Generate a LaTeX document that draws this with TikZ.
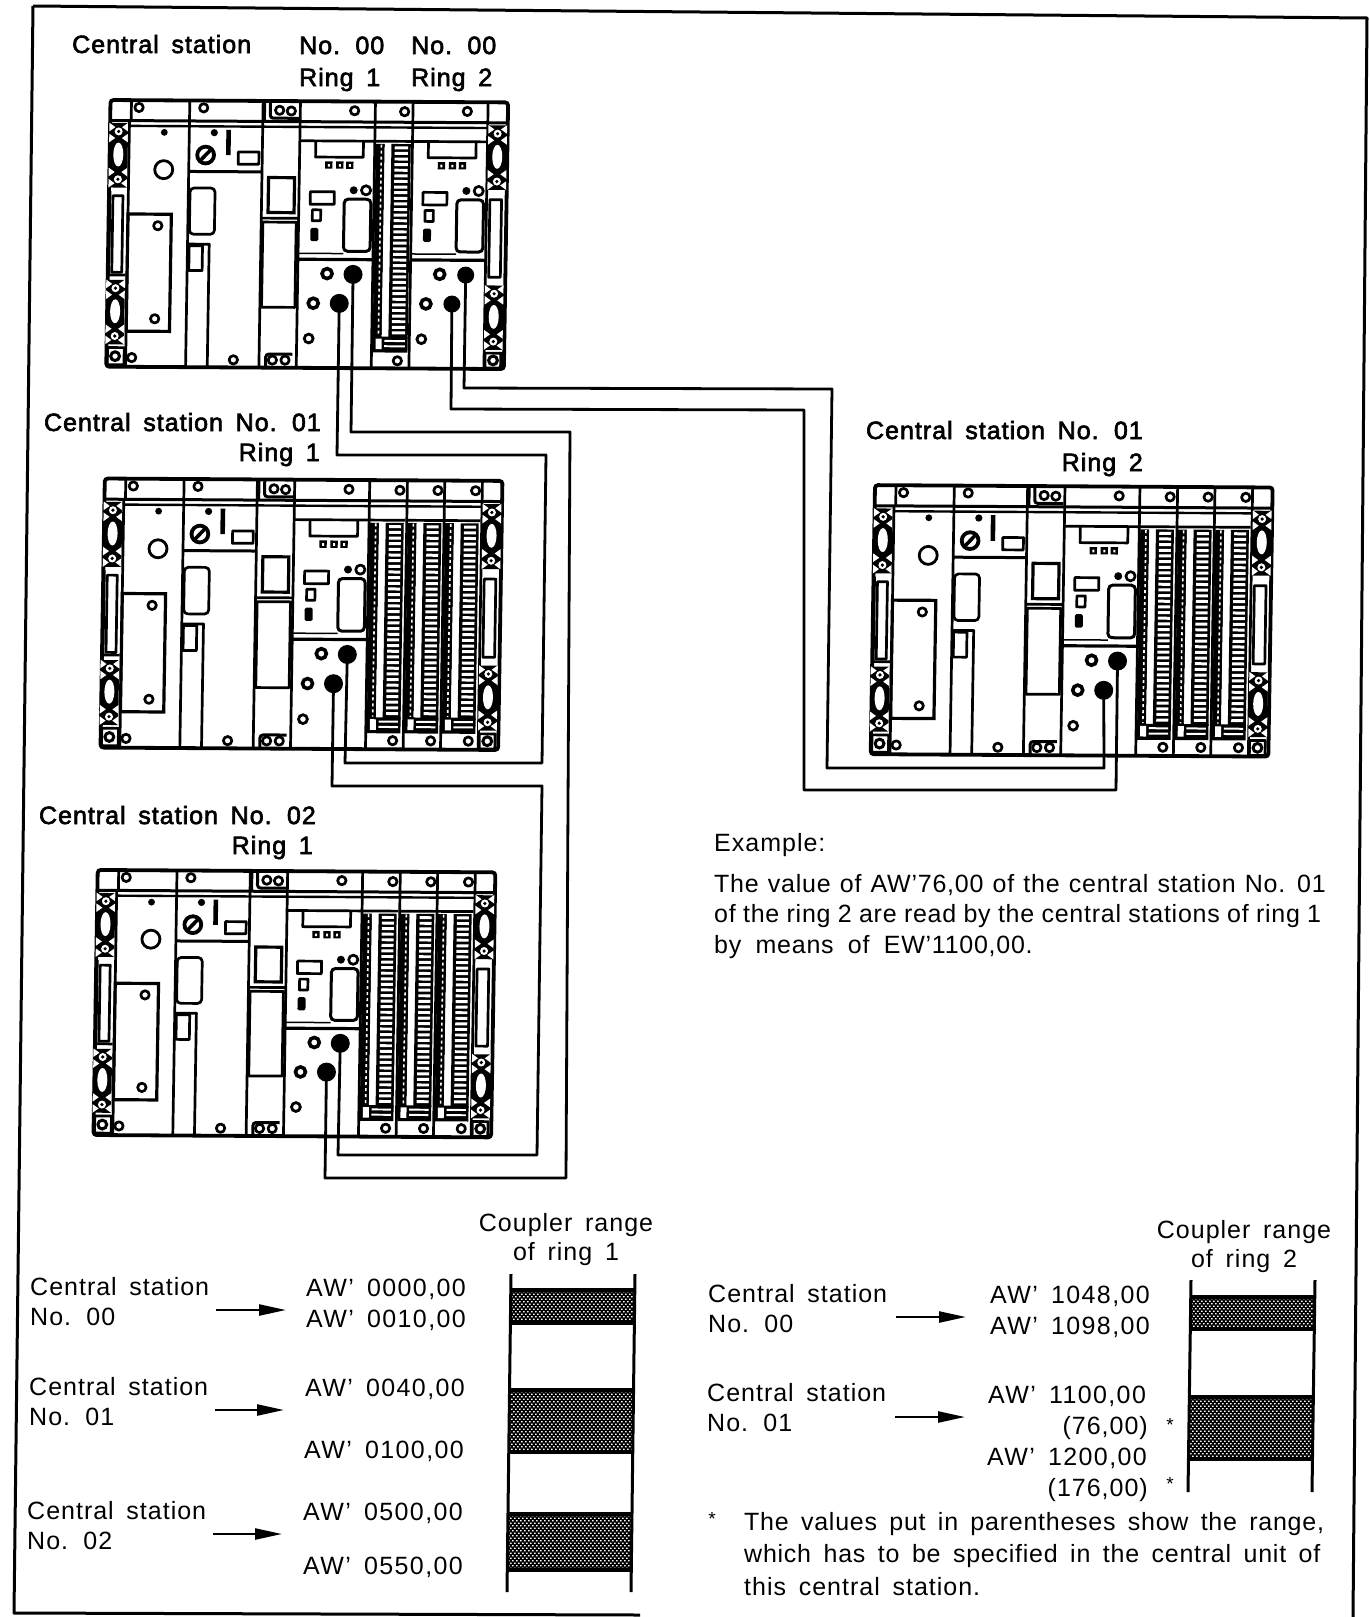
\documentclass[tikz,border=0pt]{standalone}
\usepackage{fontspec}
\usetikzlibrary{arrows.meta}
\setmainfont{Liberation Sans}[LetterSpace=4,WordSpace=1.6]
\newfontfamily\headfont{Liberation Sans}[LetterSpace=4,WordSpace=1.6,FakeBold=2.5]
\newcommand\txtsize{\fontsize{25}{30}\selectfont}
\newcommand\awfont{\addfontfeature{LetterSpace=5.5}}
\newcommand\tightfont{\addfontfeature{LetterSpace=3}}
\tikzset{
  txt/.style={anchor=base west,inner sep=0pt,font=\txtsize},
  txr/.style={anchor=base east,inner sep=0pt,font=\txtsize},
  txc/.style={anchor=base,inner sep=0pt,font=\txtsize},
  star/.style={anchor=base,inner sep=0pt,font=\fontsize{19}{20}\selectfont},
  hd/.style={anchor=base west,inner sep=0pt,font=\headfont\txtsize},
  hdr/.style={anchor=base east,inner sep=0pt,font=\headfont\txtsize},
  cable/.style={line width=2.8pt,line join=round},
  edge/.style={line width=3pt,line join=round},
  arrowline/.style={line width=2.4pt,-{Triangle[length=27pt,width=11pt]}},
  rail/.style={line width=3pt},
  m/.style={line width=2.7pt,line join=round},
  hole/.style={circle,fill=black,inner sep=0pt,minimum size=19pt},
  holeb/.style={circle,fill=black,inner sep=0pt,minimum size=17pt}
}
\newcommand\band[4]{%
  \begin{scope}
  \clip (#1,#2) rectangle (#3,#4);
  \fill[black] (#1,#2) rectangle (#3,#4);
  \begin{scope}[shift={(#1,#2)}]
  \fill[white] \foreach \xx in {0,4,...,128}{\foreach \yy in {1,6,...,66}{(\xx,\yy) rectangle ++(1.5,1.3)}};
  \fill[white] \foreach \xx in {2,6,...,130}{\foreach \yy in {3.5,8.5,...,68.5}{(\xx,\yy) rectangle ++(1.5,1.3)}};
  \end{scope}
  \end{scope}
  \draw[line width=3.4pt] (#1,#2) -- (#3,#2);
  \draw[line width=3.4pt] (#1,#4) -- (#3,#4);}
\newcommand\screw[2]{\draw[m,fill=white] (#1,#2) circle[radius=4.2pt];}
\newcommand\jack[2]{\draw[line width=3.6pt,fill=white] (#1,#2) circle[radius=5pt];}
\newcommand\bracket[2]{%
  \begin{scope}[shift={(#1,#2)}]
  \fill[black] (-28,0) rectangle (28,195);
  \fill[white] (0,95) ellipse[x radius=5pt,y radius=12pt];
  \fill[white] (-9,95) -- (0,68) -- (9,95) -- (0,130) -- cycle;
  \fill[black] (0,25) circle[radius=3pt];
  \foreach \yy in {12,45,148,182}{
    \fill[white] (-28,\yy-13) -- (-10,\yy) -- (-28,\yy+13) -- cycle;
    \fill[white] (28,\yy-13) -- (10,\yy) -- (28,\yy+13) -- cycle;}
  \fill[white] (0,25) circle[radius=4pt];
  \fill[white] (0,170) circle[radius=4pt];
  \fill[black] (0,25) circle[radius=1.8pt];
  \fill[black] (0,170) circle[radius=1.8pt];
  \end{scope}}
\newcommand\coupler[4]{% dx, hole node names, hole style
  \draw[m] (630+#1,150) -- (855+#1,150);
  \begin{scope}[shift={(#1+8,-6)}]
  \draw[m] (672,158) -- (672,205) -- (815,205) -- (815,158);
  \foreach \xx in {712,745,775}{\fill (\xx-11,218) rectangle (\xx+11,240); \fill[white] (\xx-3,226) rectangle (\xx+3,234);}
  \fill (788,305) circle[radius=4pt];
  \draw[m] (825,305) circle[radius=4.6pt];
  \draw[m] (658,310) rectangle (730,348);
  \draw[m] (665,365) rectangle (690,398);
  \fill[rounded corners=1.5pt] (660,420) rectangle (684,460);
  \draw[line width=3pt,fill=white,rounded corners=4pt] (760,332) rectangle (840,490);
  \draw[line width=1.5pt] (622,497) -- (760,497);
  \draw[line width=3.2pt] (622,515) -- (847,515);
  \jack{712}{558}
  \jack{672}{648}
  \draw[line width=2.8pt,fill=white] (660,755) circle[radius=4.4pt];
  \node[#4] (#2) at (790,560) {};
  \node[#4] (#3) at (750,648) {};
  \end{scope}
  \screw{795+#1}{58}}
\newcommand\iomod[2]{% left x, right x
  \begin{scope}[shift={(#1,0)}]
  \fill (3,158) rectangle (30,745);
  \draw[white,line width=1.6pt,dash pattern=on 3pt off 3pt] (20,160) -- (20,740);
  \fill[white] (30,158) rectangle (50,740);
  \fill (50,158) rectangle (#2,748);
  \foreach \yy in {165,182,...,735}{\fill[white] (60,\yy) rectangle (#2-8,\yy+9);}
  \fill (3,742) rectangle (#2,790);
  \fill[white] (12,748) rectangle (30,780);
  \foreach \yy in {752,768}{\fill[white] (38,\yy) rectangle (#2-8,\yy+6);}
  \draw[m] (0,150) -- (#2+5,150);
  \end{scope}}
\newcommand\rackbase{%
  \draw[line width=3.8pt,fill=white,rounded corners=3pt] (62,30) rectangle (1255,838);
  % top rail
  \draw[line width=3pt] (62,92) -- (1255,92);
  \draw[line width=2.4pt] (120,108) -- (1195,108);
  % brackets
  \draw[m] (125,30) -- (125,92);
  \bracket{88}{100}
  \bracket{86}{575}
  \draw[m] (65,305) -- (65,560) -- (115,560);
  \draw[m,fill=white] (74,320) rectangle (104,552);
  \draw[m] (120,92) -- (120,838);
  \draw[m] (65,780) rectangle (115,832);
  \draw[line width=3pt] (88,806) circle[radius=4.4pt];
  % right bracket
  \draw[m] (1195,30) -- (1195,838);
  \bracket{1225}{100}
  \bracket{1222}{585}
  \draw[m,fill=white] (1205,325) rectangle (1240,560);
  \draw[m] (1198,790) rectangle (1245,835);
  \draw[line width=3pt] (1222,812) circle[radius=4.4pt];
  % module separators
  \foreach \xx in {300,520,632,857}{\draw[m] (\xx,30) -- (\xx,838);}
  % first panel
  \fill (225,127) circle[radius=3.4pt];
  \draw[line width=2.8pt] (225,240) circle[radius=9pt];
  \draw[line width=3.2pt] (120,375) rectangle (250,730);
  \screw{210}{410}
  \screw{205}{692}
  \screw{148}{52}
  \screw{138}{810}
  % second panel
  \screw{342}{52}
  \fill (375,127) circle[radius=3.6pt];
  \draw[line width=4.6pt] (418,118) -- (418,195);
  \draw[line width=3.8pt] (350,195) circle[radius=8.4pt];
  \draw[line width=3.6pt] (336,210) -- (364,180);
  \draw[m] (448,185) rectangle (510,222);
  \draw[line width=3pt] (300,245) -- (520,245);
  \draw[m,rounded corners=4pt] (305,295) rectangle (380,435);
  \draw[m] (300,465) -- (365,465) -- (365,838);
  \draw[m] (305,470) rectangle (345,545);
  \screw{443}{815}
  % third panel
  \draw[m] (525,32) -- (525,92);
  \draw[line width=3pt,rounded corners=3pt] (542,34) -- (542,82) -- (628,82);
  \screw{570}{58}
  \screw{605}{60}
  \draw[line width=3.2pt] (540,262) rectangle (618,368);
  \draw[m] (520,385) -- (632,385);
  \draw[m] (525,397) rectangle (625,655);
  \draw[line width=3pt,rounded corners=3pt] (540,838) -- (540,797) -- (620,797);
  \screw{560}{815}
  \screw{598}{815}
}
\newcommand\rackA[7]{% ox oy yscale p1 p2 p3 p4
  \begin{scope}[shift={(#1,#2)},x=0.33333pt,y=-#3pt,xslant=0.016,yslant=-0.006]
  \rackbase
  \coupler{0}{#4}{#5}{hole}
  \iomod{857}{108}
  \draw[m] (970,30) -- (970,838);
  \coupler{338}{#6}{#7}{holeb}
  \screw{945}{60}
  \screw{935}{815}
  \end{scope}}
\newcommand\rackB[5]{% ox oy yscale p1 p2
  \begin{scope}[shift={(#1,#2)},x=0.33333pt,y=-#3pt,xslant=0.016,yslant=-0.006]
  \rackbase
  \coupler{0}{#4}{#5}{hole}
  \iomod{857}{104}
  \iomod{970}{104}
  \iomod{1082}{104}
  \draw[m] (970,30) -- (970,838);
  \draw[m] (1082,30) -- (1082,838);
  \foreach \xx in {948,1062,1175}{\screw{\xx}{60}}
  \foreach \xx in {938,1052,1165}{\screw{\xx}{812}}
  \end{scope}}
\begin{document}
\begin{tikzpicture}[x=1pt,y=-1pt]
\useasboundingbox (0,0) rectangle (1369,1617);
\fill[white] (0,0) rectangle (1369,1617);
% border
\coordinate (bTL) at (33,6);
\coordinate (bTR) at (1367,18);
\coordinate (bBR) at (1353,1617);
\coordinate (bBL) at (14,1613);
\coordinate (bBE) at (640,1615);
\draw[edge] (bTL) -- (bTR) -- (bBR);
\draw[edge] (bTL) -- (bBL) -- (bBE);
% racks
\rackA{90}{90}{0.33}{ra}{rb}{rc}{rd}
\rackB{84.3}{468.4}{0.333}{sa}{sb}
\rackB{77.2}{860}{0.328}{ta}{tb}
\rackB{854.5}{475}{0.333}{ua}{ub}
% labels
\node[hd] (l1) at (72,53) {Central station};
\node[hd] (l2) at (299,54) {No. 00};
\node[hd] (l3) at (299,86) {Ring 1};
\node[hd] (l4) at (411,54) {No. 00};
\node[hd] (l5) at (411,86) {Ring 2};
\node[hdr] (l6) at (321,431) {Central station No. 01};
\node[hdr] (l7) at (320,461) {Ring 1};
\node[hdr] (l8) at (1143,439) {Central station No. 01};
\node[hdr] (l9) at (1143,471) {Ring 2};
\node[hdr] (l10) at (316,824) {Central station No. 02};
\node[hdr] (l11) at (313,854) {Ring 1};
% cables
\coordinate (c1a) at (351,432); \coordinate (c1b) at (570,432); \coordinate (c1c) at (566,1178); \coordinate (c1d) at (325,1178);
\draw[cable] (ra.center) -- (c1a) -- (c1b) -- (c1c) -- (c1d) -- (tb.center);
\coordinate (c2a) at (337,455); \coordinate (c2b) at (546,455); \coordinate (c2c) at (542,763); \coordinate (c2d) at (345,763);
\draw[cable] (rb.center) -- (c2a) -- (c2b) -- (c2c) -- (c2d) -- (sa.center);
\coordinate (c3a) at (332,786); \coordinate (c3b) at (542,786); \coordinate (c3c) at (537,1155); \coordinate (c3d) at (338,1155);
\draw[cable] (sb.center) -- (c3a) -- (c3b) -- (c3c) -- (c3d) -- (ta.center);
\coordinate (c4a) at (464,388); \coordinate (c4b) at (832,389); \coordinate (c4c) at (827,768); \coordinate (c4d) at (1104,768);
\draw[cable] (rc.center) -- (c4a) -- (c4b) -- (c4c) -- (c4d) -- (ub.center);
\coordinate (c5a) at (451,409); \coordinate (c5b) at (804,410); \coordinate (c5c) at (804,790); \coordinate (c5d) at (1116,790);
\draw[cable] (rd.center) -- (c5a) -- (c5b) -- (c5c) -- (c5d) -- (ua.center);
% example
\node[txt] (ex0) at (714,851) {Example:};
\node[txt] (ex1) at (714,892) {\tightfont\spaceskip=9.2pt The value of AW'76,00 of the central station No. 01};
\node[txt] (ex2) at (714,922) {\tightfont\spaceskip=7.3pt of the ring 2 are read by the central stations of ring 1};
\node[txt] (ex3) at (714,953) {\tightfont\spaceskip=14.3pt by means of EW'1100,00.};
% left table
\node[txc] (lt1) at (566,1231) {Coupler range};
\node[txc] (lt2) at (566,1260) {of ring 1};
\node[txt] (a1) at (30,1295) {Central station};
\node[txt] (a2) at (30,1325) {No. 00};
\node[txt] (a3) at (29,1395) {Central station};
\node[txt] (a4) at (29,1425) {No. 01};
\node[txt] (a5) at (27,1519) {Central station};
\node[txt] (a6) at (27,1549) {No. 02};
\coordinate (ar1s) at (216,1310); \coordinate (ar1e) at (286,1310);
\coordinate (ar2s) at (215,1410); \coordinate (ar2e) at (284,1410);
\coordinate (ar3s) at (213,1534); \coordinate (ar3e) at (282,1534);
\draw[arrowline] (ar1s) -- (ar1e);
\draw[arrowline] (ar2s) -- (ar2e);
\draw[arrowline] (ar3s) -- (ar3e);
\node[txt] (w1) at (306,1296) {\awfont AW' 0000,00};
\node[txt] (w2) at (306,1327) {\awfont AW' 0010,00};
\node[txt] (w3) at (305,1396) {\awfont AW' 0040,00};
\node[txt] (w4) at (304,1458) {\awfont AW' 0100,00};
\node[txt] (w5) at (303,1520) {\awfont AW' 0500,00};
\node[txt] (w6) at (303,1574) {\awfont AW' 0550,00};
\band{511}{1290}{635}{1323}
\band{509}{1390}{633}{1452}
\band{508}{1514}{632}{1570}
\coordinate (rl1) at (511,1274); \coordinate (rl2) at (507,1592);
\coordinate (rl3) at (635,1274); \coordinate (rl4) at (631,1592);
\draw[rail] (rl1) -- (rl2);
\draw[rail] (rl3) -- (rl4);
% right table
\node[txc] (rt1) at (1244,1238) {Coupler range};
\node[txc] (rt2) at (1244,1267) {of ring 2};
\node[txt] (b1) at (708,1302) {Central station};
\node[txt] (b2) at (708,1332) {No. 00};
\node[txt] (b3) at (707,1401) {Central station};
\node[txt] (b4) at (707,1431) {No. 01};
\coordinate (ar4s) at (896,1317); \coordinate (ar4e) at (966,1317);
\coordinate (ar5s) at (895,1417); \coordinate (ar5e) at (965,1417);
\draw[arrowline] (ar4s) -- (ar4e);
\draw[arrowline] (ar5s) -- (ar5e);
\node[txt] (v1) at (990,1303) {\awfont AW' 1048,00};
\node[txt] (v2) at (990,1334) {\awfont AW' 1098,00};
\node[txt] (v3) at (988,1403) {\awfont AW' 1100,00};
\node[txr] (v4) at (1148,1434) {(76,00)};
\node[star] (v4s) at (1170,1431) {*};
\node[txt] (v5) at (987,1465) {\awfont AW' 1200,00};
\node[txr] (v6) at (1148,1496) {(176,00)};
\node[star] (v6s) at (1170,1490) {*};
\band{1191}{1297}{1314}{1329}
\band{1190}{1397}{1312}{1459}
\coordinate (rr1) at (1191,1280); \coordinate (rr2) at (1188,1492);
\coordinate (rr3) at (1315,1280); \coordinate (rr4) at (1312,1492);
\draw[rail] (rr1) -- (rr2);
\draw[rail] (rr3) -- (rr4);
% footnote
\node[star] (fs) at (712,1525) {*};
\node[txt] (f1) at (744,1530) {\tightfont The values put in parentheses show the range,};
\node[txt] (f2) at (744,1562) {\tightfont\spaceskip=12.5pt which has to be specified in the central unit of};
\node[txt] (f3) at (744,1595) {this central station.};
\end{tikzpicture}
\end{document}
